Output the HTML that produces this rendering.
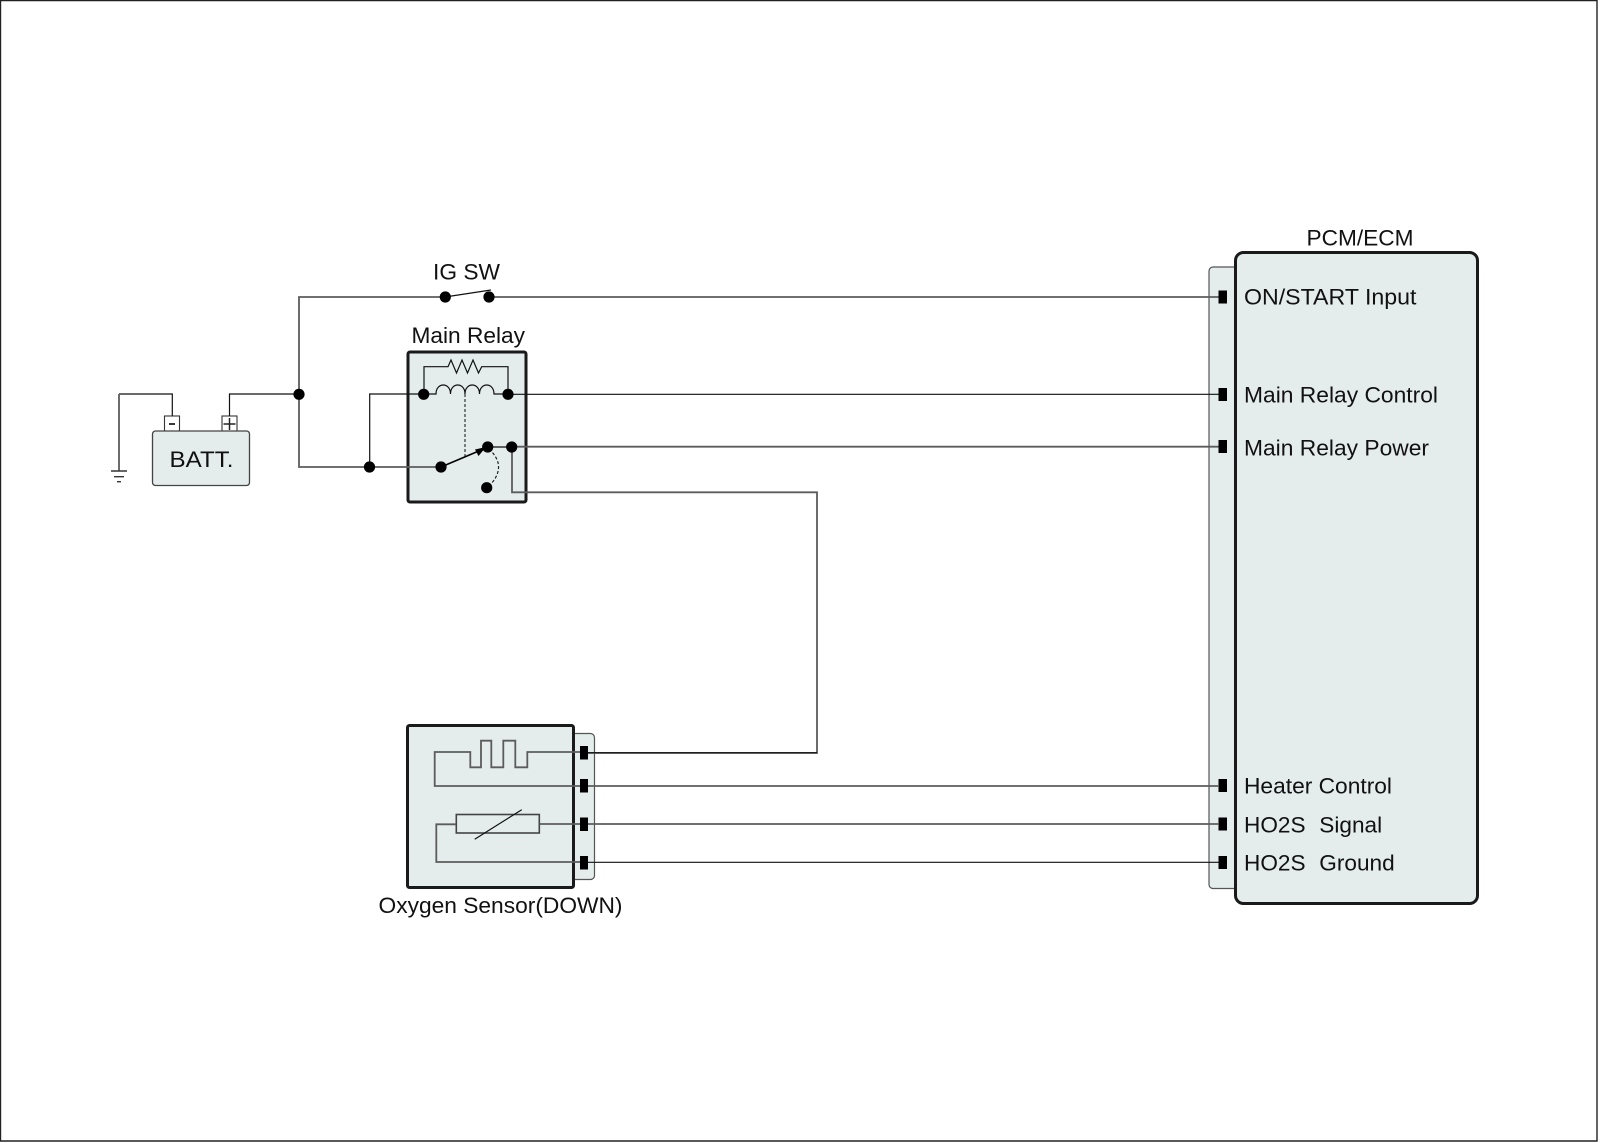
<!DOCTYPE html>
<html>
<head>
<meta charset="utf-8">
<style>
html,body{margin:0;padding:0;background:#fff;width:1600px;height:1143px;overflow:hidden}
svg{display:block}
text{font-family:"Liberation Sans",sans-serif;font-size:22.6px;fill:#111}
.w{fill:none;stroke:#333;stroke-width:1.4}
.b{fill:none;stroke:#111;stroke-width:1.2}
.g{fill:none;stroke:#5c5c5c;stroke-width:1.8}
.box{fill:#e4ecec;stroke:#1a1a1a;stroke-width:3}
.con{fill:#e4ecec;stroke:#555;stroke-width:1.2}
.d{fill:#000}
.p{fill:#000}
</style>
</head>
<body>
<svg width="1600" height="1143" viewBox="0 0 1600 1143" xmlns="http://www.w3.org/2000/svg">
<rect width="1600" height="1143" fill="#fff"/>
<path d="M0.5 1141V0.5H1597V1141Z" fill="none" stroke="#222" stroke-width="1.4"/>

<!-- Containers first -->
<rect class="con" x="1209" y="267" width="40" height="621.5" rx="4"/>
<rect class="box" x="1235.5" y="252.5" width="242" height="651" rx="8"/>
<rect class="con" x="560" y="733.5" width="34.5" height="146" rx="4"/>
<rect class="box" x="407.5" y="725.5" width="166" height="162" rx="2"/>
<rect class="box" x="408" y="352" width="118" height="150" rx="2"/>

<!-- Battery -->
<rect x="164.5" y="416" width="15" height="16" fill="#fff" stroke="#333" stroke-width="1.1"/>
<rect x="222" y="416" width="15" height="16" fill="#fff" stroke="#333" stroke-width="1.1"/>
<rect x="152.5" y="431" width="97" height="54.5" rx="3" fill="#e4ecec" stroke="#444" stroke-width="1.3"/>
<path d="M169 424h6" stroke="#222" stroke-width="1.8"/>
<path d="M223.5 424h12M229.5 418v12" stroke="#222" stroke-width="1.5" fill="none"/>
<text x="169.5" y="467" textLength="64" lengthAdjust="spacingAndGlyphs">BATT.</text>
<path class="b" d="M172.3 416V394H119"/>
<path class="g" d="M119 394V471"/>
<path class="w" d="M111 471h16M114 476.7h10M117 481.7h4"/>
<path class="b" d="M229.5 416V394H299"/>

<!-- IG SW and main wires -->
<path class="g" d="M299 394V297H445"/>
<path class="g" d="M299 394V467H441"/>
<path class="b" d="M445 297L491 290"/>
<path class="g" d="M489 297H1219"/>
<text x="433" y="279.5" textLength="67" lengthAdjust="spacingAndGlyphs">IG SW</text>

<!-- Main relay -->
<text x="411.5" y="343" textLength="113.5" lengthAdjust="spacingAndGlyphs">Main Relay</text>
<path class="b" d="M369.7 467V394H424"/>
<path class="b" d="M424 394V366.7H448L451 360L456.5 373L462 360L467.5 373L473 360L478.5 373L481.7 366.7H508V394"/>
<path class="b" d="M424 394H436C436 382 450.5 382 450.5 394C450.5 382 465 382 465 394C465 382 479.5 382 479.5 394C479.5 382 494 382 494 394H508"/>
<path d="M465 394V457" fill="none" stroke="#333" stroke-width="1.2" stroke-dasharray="3 2"/>
<path d="M441 467L480 450.5" stroke="#000" stroke-width="1.5" fill="none"/>
<path d="M486 447L475 449.5L478.5 456Z" fill="#000"/>
<path d="M489 449C503 462 501 475 487 488" fill="none" stroke="#222" stroke-width="1.2" stroke-dasharray="3 2"/>
<path class="w" d="M488 447H512"/>
<path class="g" d="M512 447V492.3H817V753H580"/>
<path class="b" d="M508 394.3H1219"/>
<path class="g" d="M512 446.7H1219"/>

<!-- PCM -->
<text x="1306.5" y="245.5" textLength="107" lengthAdjust="spacingAndGlyphs">PCM/ECM</text>
<text x="1244" y="304.3" textLength="172.5" lengthAdjust="spacingAndGlyphs">ON/START Input</text>
<text x="1244" y="402.3" textLength="194" lengthAdjust="spacingAndGlyphs">Main Relay Control</text>
<text x="1244" y="455.7" textLength="185" lengthAdjust="spacingAndGlyphs">Main Relay Power</text>
<text x="1244" y="793.7" textLength="148" lengthAdjust="spacingAndGlyphs">Heater Control</text>
<text x="1244" y="832.3">HO2S</text>
<text x="1319.3" y="832.3">Signal</text>
<text x="1244" y="870.3">HO2S</text>
<text x="1319.3" y="870.3">Ground</text>
<g class="p">
<rect x="1218.5" y="290.5" width="8.5" height="13"/>
<rect x="1218.5" y="388" width="8.5" height="13"/>
<rect x="1218.5" y="440" width="8.5" height="13"/>
<rect x="1218.5" y="779" width="8.5" height="13"/>
<rect x="1218.5" y="817.5" width="8.5" height="13"/>
<rect x="1218.5" y="856" width="8.5" height="13"/>
</g>

<!-- Oxygen sensor -->
<text x="378.5" y="913" textLength="244" lengthAdjust="spacingAndGlyphs">Oxygen Sensor(DOWN)</text>
<path class="g" d="M580 752H527.3V767.3H515.3V740.7H503.3V767.3H491.3V740.7H481V767.3H470.3V752H434.7V786H580"/>
<rect x="456.3" y="814.5" width="83" height="18.5" fill="none" stroke="#444" stroke-width="1.6"/>
<path class="g" d="M456 824.3H436.3V862H580M539.5 824H580"/>
<path class="b" d="M474.7 839.3L521.7 809.7"/>
<g class="p">
<rect x="580" y="746" width="8" height="13.5"/>
<rect x="580" y="779" width="8" height="13.5"/>
<rect x="580" y="817.5" width="8" height="13.5"/>
<rect x="580" y="856" width="8" height="13.5"/>
</g>
<path class="b" d="M588 752.7H817"/>
<path class="g" d="M588 786H1219"/>
<path class="g" d="M588 824H1219"/>
<path class="b" d="M588 862.3H1219"/>

<!-- Dots -->
<g class="d">
<circle cx="299" cy="394.3" r="5.6"/>
<circle cx="369.5" cy="467" r="5.6"/>
<circle cx="445.3" cy="297" r="5.6"/>
<circle cx="489" cy="297" r="5.6"/>
<circle cx="423.7" cy="394.3" r="5.6"/>
<circle cx="508" cy="394.3" r="5.6"/>
<circle cx="441" cy="467" r="5.6"/>
<circle cx="487.7" cy="447" r="5.6"/>
<circle cx="511.7" cy="447" r="5.6"/>
<circle cx="486.7" cy="487.7" r="5.6"/>
</g>
</svg>
</body>
</html>
